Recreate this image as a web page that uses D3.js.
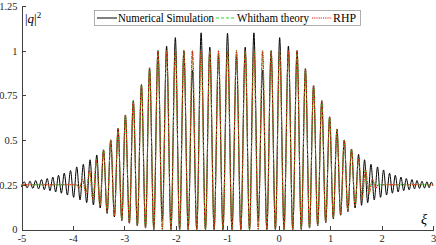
<!DOCTYPE html>
<html>
<script src="https://d3js.org/d3.v7.min.js"></script>
<head>
    <meta charset="UTF-8">
    <style type="text/css">
        body { margin: 0; background: #fff; }
        svg text { font-family: "Liberation Serif", serif; }
        .axis path, .axis line { stroke: #404040; stroke-width: 1; shape-rendering: crispEdges; }
        .axis text { fill: #262626; }
    </style>
</head>
<body>
<script type="text/javascript">
    // extrema of |q|^2 (xi, value)
    var simXi = [-5, -4.946, -4.89, -4.835, -4.78, -4.724, -4.668, -4.611, -4.556, -4.5, -4.446, -4.391, -4.336, -4.28, -4.225,
        -4.169, -4.108, -4.047, -3.987, -3.926, -3.862, -3.798, -3.733, -3.667, -3.602, -3.537, -3.47, -3.405, -3.335,
        -3.265, -3.194, -3.123, -3.05, -2.98, -2.903, -2.827, -2.748, -2.668, -2.589, -2.51, -2.428, -2.347, -2.263,
        -2.179, -2.094, -2.009, -1.926, -1.843, -1.76, -1.677, -1.593, -1.508, -1.424, -1.339, -1.255, -1.17, -1.083,
        -0.995, -0.908, -0.82, -0.736, -0.651, -0.567, -0.482, -0.398, -0.313, -0.23, -0.147, -0.064, 0.019, 0.104,
        0.189, 0.273, 0.357, 0.439, 0.52, 0.599, 0.678, 0.758, 0.837, 0.914, 0.99, 1.062, 1.133, 1.204, 1.275, 1.345,
        1.415, 1.485, 1.553, 1.611, 1.669, 1.73, 1.794, 1.858, 1.922, 1.98, 2.039, 2.097, 2.156, 2.21, 2.267, 2.322,
        2.377, 2.43, 2.481, 2.536, 2.591, 2.64, 2.689, 2.737, 2.786, 2.835, 2.883, 2.925, 2.967, 3];
    var simQ = [0.238, 0.267, 0.233, 0.27, 0.23, 0.274, 0.227, 0.279, 0.222, 0.285, 0.217, 0.293, 0.21, 0.303, 0.203,
        0.315, 0.193, 0.33, 0.18, 0.35, 0.165, 0.365, 0.15, 0.39, 0.137, 0.417, 0.12, 0.445, 0.09,
        0.5, 0.07, 0.565, 0.05, 0.64, 0.035, 0.72, 0.02, 0.81, 0.008, 0.9, 0, 1.0, 0.05,
        1.026, 0, 1.073, 0, 1.0, 0, 0.89, 0, 1.1, 0, 1.02, 0, 0.97, 0,
        1.097, 0, 0.97, 0, 1.02, 0, 1.1, 0.05, 0.89, 0, 1.0, 0, 1.073, 0,
        1.026, 0, 1.0, 0, 0.9, 0.008, 0.805, 0.02, 0.72, 0.038, 0.63, 0.06, 0.56, 0.08, 0.5, 0.1,
        0.45, 0.12, 0.42, 0.135, 0.39, 0.15, 0.365, 0.165, 0.35, 0.18, 0.333, 0.193, 0.315, 0.203, 0.303, 0.21,
        0.293, 0.217, 0.285, 0.222, 0.279, 0.227, 0.274, 0.23, 0.27, 0.232, 0.267, 0.234, 0.265, 0.245];

    var thXi = [-5, -3.93, -3.875, -3.813, -3.745, -3.677, -3.61, -3.544, -3.475, -3.405, -3.335, -3.265, -3.194,
        -3.123, -3.05, -2.98, -2.903, -2.827, -2.748, -2.668, -2.589, -2.51, -2.428, -2.347, -2.263, -2.179, -2.094,
        -2.009, -1.926, -1.843, -1.76, -1.677, -1.593, -1.508, -1.424, -1.339, -1.255, -1.17, -1.083, -0.995, -0.908,
        -0.82, -0.736, -0.651, -0.567, -0.482, -0.398, -0.313, -0.23, -0.147, -0.064, 0.019, 0.104, 0.189, 0.273,
        0.357, 0.439, 0.52, 0.599, 0.678, 0.758, 0.837, 0.914, 0.99, 1.062, 1.133, 1.204, 1.275, 1.345, 1.415, 1.485,
        1.554, 1.62, 1.687, 1.755, 1.823, 1.885, 1.94, 3];
    var whithamQ = [0.25, 0.25, 0.234, 0.28, 0.2, 0.33, 0.166, 0.39, 0.13, 0.445, 0.1, 0.5, 0.075,
        0.565, 0.055, 0.64, 0.038, 0.72, 0.022, 0.81, 0.01, 0.905, 0.002, 1.0, 0, 1.0, 0,
        1.0, 0, 1.0, 0, 1.0, 0, 1.0, 0, 1.0, 0, 1.0, 0, 1.0, 0,
        1.0, 0, 1.0, 0, 1.0, 0, 1.0, 0, 1.0, 0, 1.0, 0, 1.0, 0,
        1.0, 0.002, 0.9, 0.01, 0.805, 0.024, 0.72, 0.042, 0.63, 0.065, 0.56, 0.085, 0.5, 0.105, 0.45, 0.135,
        0.395, 0.17, 0.335, 0.2, 0.28, 0.233, 0.25, 0.25];
    var rhpQ = [0.25, 0.25, 0.232, 0.28, 0.2, 0.33, 0.165, 0.39, 0.13, 0.445, 0.1, 0.5, 0.075,
        0.565, 0.055, 0.64, 0.038, 0.72, 0.022, 0.81, 0.01, 0.905, 0.002, 1.0, 0, 1.0, 0,
        1.0, 0, 1.0, 0, 1.0, 0, 1.0, 0, 1.0, 0, 1.0, 0, 1.0, 0,
        1.0, 0, 1.0, 0, 1.0, 0, 1.0, 0, 1.0, 0, 1.0, 0, 1.0, 0,
        1.0, 0.002, 0.9, 0.01, 0.805, 0.024, 0.72, 0.042, 0.63, 0.065, 0.56, 0.085, 0.5, 0.105, 0.45, 0.135,
        0.395, 0.17, 0.335, 0.2, 0.28, 0.232, 0.25, 0.25];

    var xTicks = [-5, -4, -3, -2, -1, 0, 1, 2, 3];
    var yTicks = [0, 0.25, 0.5, 0.75, 1, 1.25];
    var seriesNames = ["Numerical Simulation", "Whitham theory", "RHP"];

    var serif = "'Liberation Serif', serif";
    var width = 436, height = 245;
    var x = d3.scaleLinear().domain([-5, 3]).range([21.5, 433]);
    var y = d3.scaleLinear().domain([0, 1.25]).range([229.5, 6]);

    var svg = d3.select("body").append("svg")
        .attr("width", width)
        .attr("height", height)
        .attr("font-family", serif);

    var xAxis = d3.axisBottom(x).tickValues(xTicks).tickSizeInner(-4).tickSizeOuter(0)
        .tickPadding(5).tickFormat(function (d) { return String(d); });
    var yAxis = d3.axisLeft(y).tickValues(yTicks).tickSizeInner(-4).tickSizeOuter(0)
        .tickPadding(4).tickFormat(function (d) { return String(d); });

    svg.append("g").attr("class", "x axis")
        .attr("transform", "translate(0," + y(0) + ")")
        .call(xAxis)
        .attr("font-family", serif).attr("font-size", 10.5);
    svg.append("g").attr("class", "y axis")
        .attr("transform", "translate(" + x(-5) + ",0)")
        .call(yAxis)
        .attr("font-family", serif).attr("font-size", 10.5);

    var line = d3.line()
        .x(function (d) { return x(d[0]); })
        .y(function (d) { return y(d[1]); })
        .curve(d3.curveMonotoneX);

    var styles = [
        { color: "#000000", dash: null, w: 1 },
        { color: "#22dd22", dash: "3,2", w: 1.1 },
        { color: "#ee1111", dash: "1.2,1", w: 1.1 }
    ];
    var series = [
        d3.zip(simXi, simQ),
        d3.zip(thXi, whithamQ),
        d3.zip(thXi, rhpQ)
    ];

    series.forEach(function (s, i) {
        svg.append("path")
            .attr("d", line(s))
            .attr("fill", "none")
            .attr("stroke", styles[i].color)
            .attr("stroke-width", styles[i].w)
            .attr("stroke-dasharray", styles[i].dash);
    });

    // legend
    var lg = svg.append("g");
    lg.append("rect")
        .attr("x", 94.5).attr("y", 10.5).attr("width", 266).attr("height", 15)
        .attr("fill", "#fff").attr("stroke", "#999").attr("stroke-width", 0.8);
    var lx = [97, 216, 312];
    var tl = [96, 72, 23];
    seriesNames.forEach(function (name, i) {
        lg.append("line")
            .attr("x1", lx[i]).attr("x2", lx[i] + 20)
            .attr("y1", 18).attr("y2", 18)
            .attr("stroke", styles[i].color)
            .attr("stroke-width", styles[i].w)
            .attr("stroke-dasharray", styles[i].dash);
        lg.append("text")
            .attr("x", lx[i] + 21).attr("y", 21.8)
            .attr("font-family", serif)
            .attr("font-size", "11.5px")
            .attr("textLength", tl[i])
            .attr("lengthAdjust", "spacingAndGlyphs")
            .attr("fill", "#000")
            .text(name);
    });

    // axis labels
    var yl = svg.append("text").attr("x", 25).attr("y", 23)
        .attr("font-family", serif).attr("font-size", "13px").attr("fill", "#000");
    yl.append("tspan").text("|");
    yl.append("tspan").attr("font-style", "italic").text("q");
    yl.append("tspan").text("|");
    yl.append("tspan").attr("dy", -5).attr("font-size", "9px").text("2");

    svg.append("text")
        .attr("x", 421).attr("y", 224)
        .attr("font-family", serif)
        .attr("font-size", "14px").attr("font-style", "italic").attr("fill", "#000")
        .text("ξ");
</script>
</body>
</html>
